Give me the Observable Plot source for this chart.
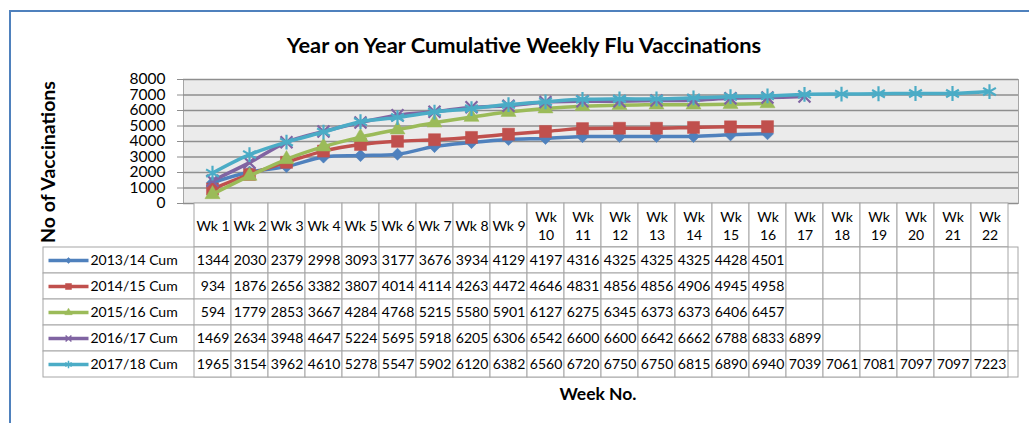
<!DOCTYPE html>
<html>
<head>
<meta charset="utf-8">
<script src="https://cdn.jsdelivr.net/npm/d3@7"></script>
<script src="https://cdn.jsdelivr.net/npm/@observablehq/plot@0.6"></script>
<style>
  body { margin: 0; background: #fff; }
  #wrap { position: relative; width: 1029px; height: 423px; overflow: hidden; font-family: Lato, "Open Sans", sans-serif; color: #000; background: #fff; }
  #border { position: absolute; left: 9px; top: 10px; width: 1100px; height: 500px; border-top: 2px solid #4f81bd; border-left: 2px solid #4f81bd; }
  #title { position: absolute; left: 524px; top: 44px; transform: translate(-50%, -50%); white-space: nowrap; font-weight: bold; font-size: 21.8px; }
  #ytitle { position: absolute; left: 47px; top: 162px; transform: translate(-50%, -50%) rotate(-90deg); white-space: nowrap; font-weight: bold; font-size: 19.5px; }
  #xtitle { position: absolute; left: 598px; top: 393px; transform: translate(-50%, -50%); white-space: nowrap; font-weight: bold; font-size: 17.5px; }
  .p { position: absolute; left: 0; }
  svg { overflow: visible; }
</style>
</head>
<body>
<div id="wrap">
  <div id="border"></div>
  <div id="title">Year on Year Cumulative Weekly Flu Vaccinations</div>
  <div id="ytitle">No of Vaccinations</div>
  <div id="xtitle">Week No.</div>
  <div id="chart" class="p" style="top:70px"></div>
  <div id="header" class="p" style="top:203px"></div>
  <div id="table" class="p" style="top:246px"></div>
</div>
<script>
// ---- data ----
const weeks = ["Wk 1","Wk 2","Wk 3","Wk 4","Wk 5","Wk 6","Wk 7","Wk 8","Wk 9","Wk 10","Wk 11","Wk 12","Wk 13","Wk 14","Wk 15","Wk 16","Wk 17","Wk 18","Wk 19","Wk 20","Wk 21","Wk 22"];
const seriesNames = ["2013/14 Cum","2014/15 Cum","2015/16 Cum","2016/17 Cum","2017/18 Cum"];
const v1314 = [1344,2030,2379,2998,3093,3177,3676,3934,4129,4197,4316,4325,4325,4325,4428,4501];
const v1415 = [934,1876,2656,3382,3807,4014,4114,4263,4472,4646,4831,4856,4856,4906,4945,4958];
const v1516 = [594,1779,2853,3667,4284,4768,5215,5580,5901,6127,6275,6345,6373,6373,6406,6457];
const v1617 = [1469,2634,3948,4647,5224,5695,5918,6205,6306,6542,6600,6600,6642,6662,6788,6833,6899];
const v1718 = [1965,3154,3962,4610,5278,5547,5902,6120,6382,6560,6720,6750,6750,6815,6890,6940,7039,7061,7081,7097,7097,7223];
const yTicks = [0,1000,2000,3000,4000,5000,6000,7000,8000];

const seriesValues = [v1314, v1415, v1516, v1617, v1718];
const colors = ["#4f81bd","#c0504d","#9bbb59","#8064a2","#4bacc6"];
const symbols = ["diamond2","square","triangle","times","asterisk"];
const filled = [true, true, true, false, false];
const radii = [5.5, 6.8, 5.6, 5.5, 7];

const W = 1029, ML = 183, MR = 11;

// tidy rows
const rows = seriesNames.flatMap((s, i) => seriesValues[i].map((v, j) => ({series: s, week: weeks[j], value: v, i})));
const cells = seriesNames.flatMap((s, i) => weeks.map((w, j) => ({series: s, week: weeks[j], value: seriesValues[i][j]})));

// ---- chart ----
const chartMarks = [
  Plot.frame({fill: "#ebebeb", stroke: "#a6a6a6"}),
  Plot.gridY(yTicks, {stroke: "#8e8e8e", strokeOpacity: 1, strokeWidth: 1.3}),
  Plot.axisY(yTicks, {tickSize: 6, tickPadding: 12, stroke: "#8e8e8e", fill: "#000", fontSize: 15.5, label: null, tickFormat: d => String(d)})
];
seriesNames.forEach((s, i) => {
  const data = rows.filter(d => d.series === s);
  chartMarks.push(Plot.line(data, {x: "week", y: "value", stroke: colors[i], strokeWidth: 3.5, curve: "catmull-rom"}));
  chartMarks.push(Plot.dot(data, {x: "week", y: "value", symbol: symbols[i], r: radii[i],
    fill: filled[i] ? colors[i] : "none", stroke: colors[i], strokeWidth: filled[i] ? 0.5 : 2.2}));
});
const chart = Plot.plot({
  width: W, height: 140, marginTop: 9, marginBottom: 7, marginLeft: ML, marginRight: MR,
  style: {fontFamily: "Lato, sans-serif", background: "transparent", overflow: "visible"},
  x: {type: "point", domain: weeks, padding: 0.5, axis: null},
  y: {domain: [0, 8000], axis: null},
  marks: chartMarks
});
document.getElementById("chart").append(chart);

// ---- header row (category labels) ----
const header = Plot.plot({
  width: W, height: 44, marginTop: 0, marginBottom: 0, marginLeft: ML, marginRight: MR,
  style: {fontFamily: "Lato, sans-serif", background: "transparent", overflow: "visible"},
  x: {type: "band", domain: weeks, padding: 0, axis: null},
  marks: [
    Plot.cell(weeks, {x: d => d, fill: "white", stroke: "#a6a6a6"}),
    Plot.text(weeks, {x: d => d, text: d => d.length > 4 ? d.replace(" ", "\n") : d, fontSize: 14, lineHeight: 1.3, fill: "#000"})
  ]
});
document.getElementById("header").append(header);

// ---- data table ----
const lineSymbol = {draw(ctx) { ctx.moveTo(-20, 0); ctx.lineTo(20, 0); }};
const tableMarks = [
  Plot.cell(seriesNames, {y: d => d, fill: "white", stroke: "#a6a6a6"}),
  Plot.cell(cells, {x: "week", y: "series", fill: "white", stroke: "#a6a6a6"}),
  Plot.text(cells.filter(d => d.value != null), {x: "week", y: "series", text: d => String(d.value), fontSize: 14, fill: "#000"}),
  Plot.text(seriesNames, {y: d => d, text: d => d, frameAnchor: "left", textAnchor: "start", dx: 47, fontSize: 14, fill: "#000"})
];
seriesNames.forEach((s, i) => {
  tableMarks.push(Plot.dot([s], {y: d => d, frameAnchor: "left", dx: 25, symbol: lineSymbol, stroke: colors[i], strokeWidth: 3.5}));
  tableMarks.push(Plot.dot([s], {y: d => d, frameAnchor: "left", dx: 25, symbol: symbols[i], r: radii[i] * 0.5,
    fill: filled[i] ? colors[i] : "none", stroke: colors[i], strokeWidth: filled[i] ? 0.5 : 1.5}));
});
const table = Plot.plot({
  width: W, height: 131, marginTop: 0.5, marginBottom: 0.5, marginLeft: 43, marginRight: MR,
  style: {fontFamily: "Lato, sans-serif", background: "transparent", overflow: "visible"},
  x: {type: "band", domain: weeks, padding: 0, range: [ML, W - MR], axis: null},
  y: {type: "band", domain: seriesNames, padding: 0, axis: null},
  marks: tableMarks
});
document.getElementById("table").append(table);
</script>
</body>
</html>
